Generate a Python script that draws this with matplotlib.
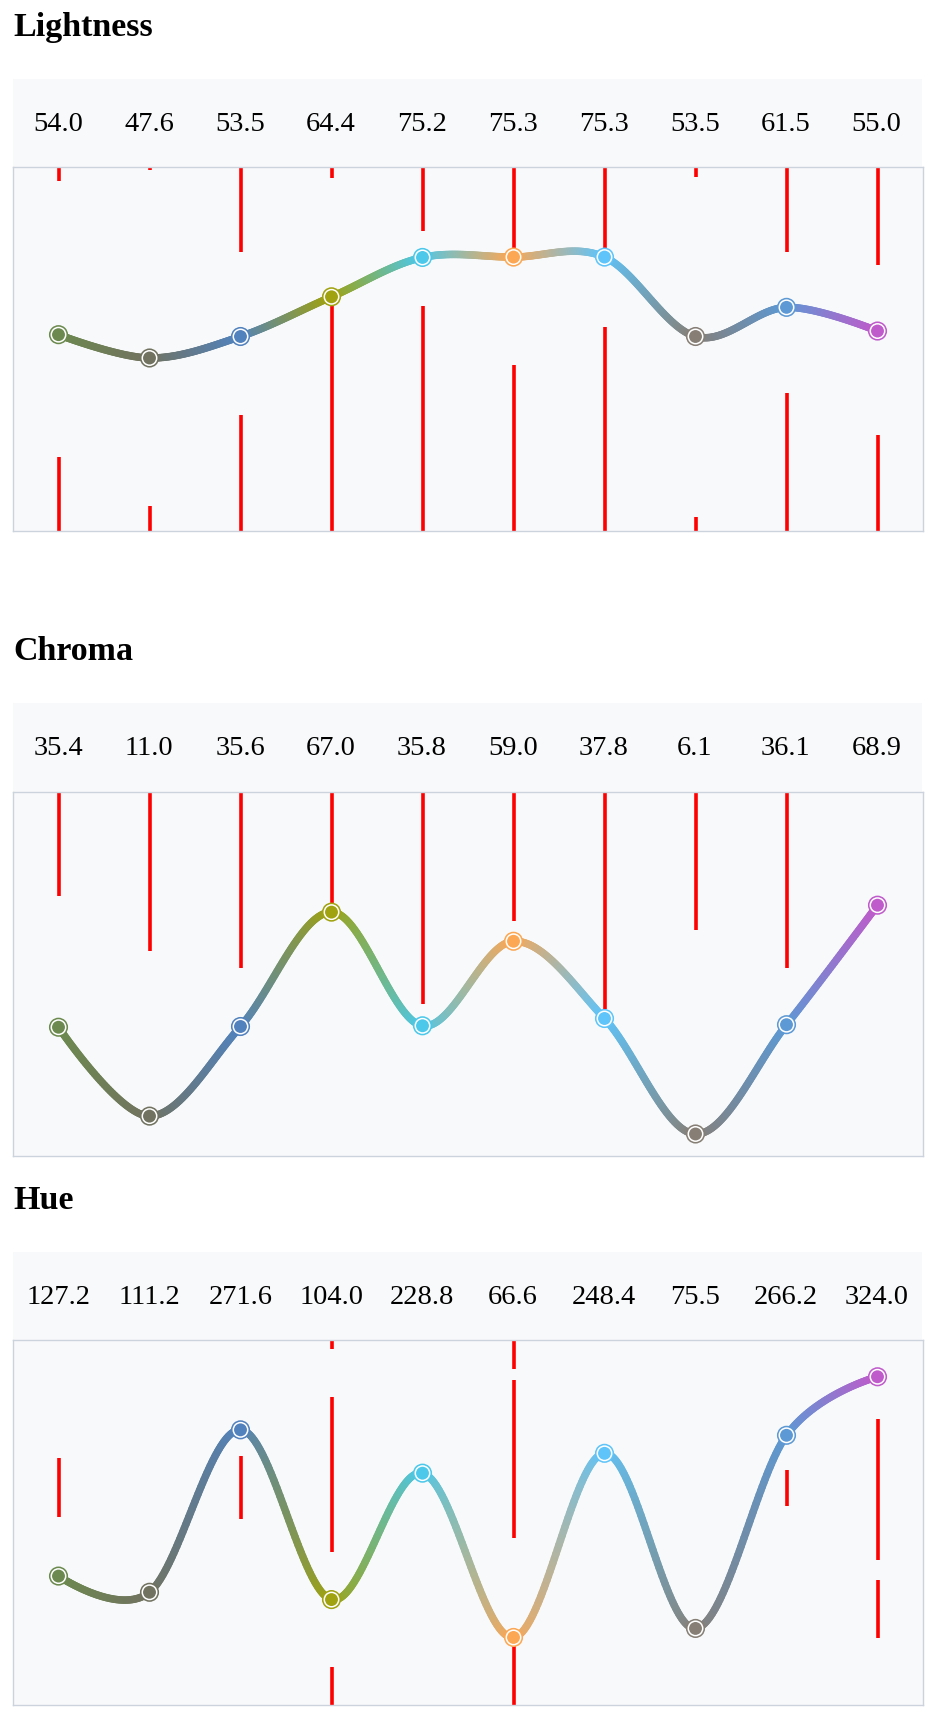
import numpy as np
import matplotlib
matplotlib.use('Agg')
import matplotlib.pyplot as plt
from matplotlib.collections import LineCollection

# ── Data ──────────────────────────────────────────────────────────────────────
LIGHTNESS = [54.0, 47.6, 53.5, 64.4, 75.2, 75.3, 75.3, 53.5, 61.5, 55.0]
CHROMA    = [35.4, 11.0, 35.6, 67.0, 35.8, 59.0, 37.8, 6.1, 36.1, 68.9]
HUE       = [127.2, 111.2, 271.6, 104.0, 228.8, 66.6, 248.4, 75.5, 266.2, 324.0]

# out-of-gamut ranges per colour (red marks)
L_OUT = [
    [(0, 20.3), (96.2, 100)],
    [(0, 7.0), (99.3, 100)],
    [(0, 32.0), (76.8, 100)],
    [(0, 62.5), (96.9, 100)],
    [(0, 61.9), (82.4, 100)],
    [(0, 45.7), (76.5, 100)],
    [(0, 56.0), (76.5, 100)],
    [(0, 4.0), (97.2, 100)],
    [(0, 38.0), (76.6, 100)],
    [(0, 26.5), (73.1, 100)],
]
C_OUT = [
    [(71.4, 100)], [(56.4, 100)], [(51.6, 100)], [(68.0, 100)], [(41.9, 100)],
    [(64.6, 100)], [(40.5, 100)], [(62.1, 100)], [(51.7, 100)], [],
]
H_OUT = [
    [(185.1, 244.2)],
    [],
    [(183.4, 245.3)],
    [(0, 37.5), (150.8, 304.4), (351.2, 360)],
    [],
    [(0, 62.0), (164.6, 320.4), (332.1, 360)],
    [],
    [],
    [(196.8, 232.2)],
    [(65.8, 123.2), (143.4, 282.5)],
]

# ── Helpers ───────────────────────────────────────────────────────────────────
W, H = 938, 1712
BG = '#f8f9fa'
BORDER = '#ccd3dc'
SERIF = ['Liberation Serif', 'DejaVu Serif']


def lch_to_rgb(l, c, h):
    hr = np.deg2rad(h)
    a, b = c * np.cos(hr), c * np.sin(hr)
    y = (l + 16) / 116
    x = y + a / 500
    z = y - b / 200

    def f(t):
        return t ** 3 if t > 0.206896552 else 0.12841855 * (t - 0.137931034)

    X, Y, Z = 0.950470 * f(x), f(y), 1.088830 * f(z)
    r = 3.2404542 * X - 1.5371385 * Y - 0.4985314 * Z
    g = -0.9692660 * X + 1.8760108 * Y + 0.0415560 * Z
    bb = 0.0556434 * X - 0.2040259 * Y + 1.0572252 * Z

    def gam(v):
        v = 12.92 * v if v <= 0.00304 else 1.055 * v ** (1 / 2.4) - 0.055
        return min(max(v, 0), 1)

    return np.array([gam(r), gam(g), gam(bb)])


def cardinal(y, n=60):
    # d3.curveCardinal (tension 0) as cubic beziers
    P = np.column_stack([np.arange(len(y), dtype=float), np.asarray(y, float)])
    m = len(P)
    k = 1 / 6
    out = []
    for i in range(m - 1):
        p1, p2 = P[i], P[i + 1]
        c1 = p1 + k * (p2 - P[i - 1]) if i > 0 else p1.copy()
        c2 = p2 + k * (p1 - P[i + 2]) if i < m - 2 else p2.copy()
        t = np.linspace(0, 1, n, endpoint=(i == m - 2))[:, None]
        u = 1 - t
        out.append(u ** 3 * p1 + 3 * u ** 2 * t * c1 + 3 * u * t ** 2 * c2 + t ** 3 * p2)
    return np.vstack(out)


def fx(px):
    return px / W


def fy(px):
    return 1 - px / H


COLORS = [lch_to_rgb(l, c, h) for l, c, h in zip(LIGHTNESS, CHROMA, HUE)]

fig = plt.figure(figsize=(W / 100, H / 100), dpi=100)
fig.patch.set_facecolor('white')


def panel(title, values, outs, ymax, title_base, hdr_top, box_top, box_bot):
    left, right = 13, 923
    fig.text(fx(left), fy(title_base), title, fontsize=24.5, fontweight='bold',
             family=SERIF, va='baseline', ha='left')

    # header band with the values
    axh = fig.add_axes([fx(left), fy(box_top), fx(right - left - 1), (box_top - hdr_top) / H])
    axh.set_facecolor(BG)
    axh.set_xlim(-0.5, len(values) - 0.5)
    axh.set_ylim(box_top - hdr_top, 0)
    axh.set_xticks([]); axh.set_yticks([])
    for s in axh.spines.values():
        s.set_visible(False)
    for i, v in enumerate(values):
        axh.text(i, 52, f'{v:.1f}', ha='center', va='baseline', fontsize=20.5, family=SERIF)

    # plot box
    ax = fig.add_axes([fx(left), fy(box_bot), fx(right - left), (box_bot - box_top) / H])
    ax.set_facecolor(BG)
    ax.set_xlim(-0.5, len(values) - 0.5)
    ax.set_ylim(0, ymax)
    ax.set_xticks([]); ax.set_yticks([])
    for s in ax.spines.values():
        s.set_edgecolor(BORDER)
        s.set_linewidth(1.0)

    for i, rngs in enumerate(outs):
        for lo, hi in rngs:
            ax.vlines(i, lo, hi, color='#ff0000', linewidth=2.6, zorder=2)

    pts = cardinal(values)
    segs = np.stack([pts[:-1], pts[1:]], axis=1)
    mid = (pts[:-1, 0] + pts[1:, 0]) / 2
    cols = []
    for m in mid:
        i0 = min(int(np.floor(m)), len(values) - 2)
        t = m - i0
        cols.append((1 - t) * COLORS[i0] + t * COLORS[i0 + 1])
    lc = LineCollection(segs, colors=cols, linewidths=5.4, capstyle='round', zorder=3)
    ax.add_collection(lc)

    idx = np.arange(len(values))
    ax.scatter(idx, values, s=190, c=COLORS, edgecolors='none', zorder=4)
    ax.scatter(idx, values, s=108, c=COLORS, edgecolors='white', linewidths=1.1, zorder=5)


panel('Lightness', LIGHTNESS, L_OUT, 100, 35.7, 78.6, 167.1, 531.4)
panel('Chroma', CHROMA, C_OUT, 100, 660, 702.9, 791.9, 1156.2)
panel('Hue', HUE, H_OUT, 360, 1209.1, 1252.2, 1340.3, 1704.9)

fig.savefig('out.png', dpi=100, facecolor='white')
